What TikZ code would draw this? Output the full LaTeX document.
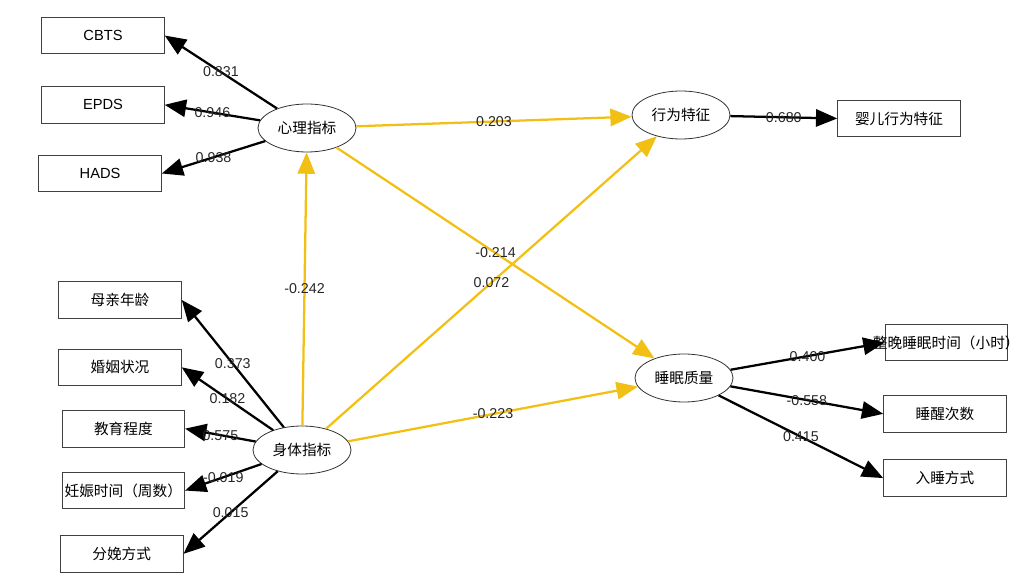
\documentclass[tikz,border=0pt]{standalone}
\usepackage{fontspec}
\setmainfont{Liberation Sans}
\newfontfamily\cjk{Noto Sans CJK SC}
\usepackage{tikz}
\usetikzlibrary{arrows.meta, positioning, shapes.geometric}
\definecolor{pathyellow}{RGB}{242,192,20}

\begin{document}
\begin{tikzpicture}[
    x=0.75pt, y=-0.75pt,
    node distance=50pt, on grid,
    base/.style={draw=black!75, line width=0.6pt, font=\cjk\fontsize{11pt}{13pt}\selectfont, align=center, inner sep=2pt},
    obs/.style={base, rectangle, minimum width=92pt, minimum height=27.5pt},
    latent/.style={base, ellipse, draw=black!80, minimum width=73.5pt, minimum height=36pt, fill=white},
    lbl/.style={font=\fontsize{10.7pt}{12pt}\selectfont, text=black!85, inner sep=0pt},
    loading/.style={-{Triangle[length=16pt, width=13pt]}, line width=1.7pt, draw=black},
    effect/.style={-{Triangle[length=16pt, width=13pt]}, line width=1.7pt, draw=pathyellow}
]
    \useasboundingbox (0,0) rectangle (1029,584);

    % --- Latent variables ---
    \node[latent] (psy) at (307,128) {心理指标};
    \node[latent] (phys) at (302,450) {身体指标};
    \node[latent] (behav) at (681,115) {行为特征};
    \node[latent] (sleep) at (684,378) {睡眠质量};

    % Psychological indicators
    \node[obs, font=\fontsize{11pt}{13pt}\selectfont] (cbts) at (103,35.5) {CBTS};
    \node[obs, font=\fontsize{11pt}{13pt}\selectfont, below=52pt of cbts] (epds) {EPDS};
    \node[obs, font=\fontsize{11pt}{13pt}\selectfont, below=51.5pt of epds, xshift=-2.2pt] (hads) {HADS};

    % Physical indicators
    \node[obs] (age) at (120,300) {母亲年龄};
    \node[obs, below=50.5pt of age] (marital) {婚姻状况};
    \node[obs, below=46pt of marital, xshift=2.5pt] (edu) {教育程度};
    \node[obs, below=46.4pt of edu] (gest) {妊娠时间（周数）};
    \node[obs, below=47.5pt of gest, xshift=-1.2pt] (delivery) {分娩方式};

    % Behaviour indicator
    \node[obs, right=163.5pt of behav, yshift=-2.6pt] (infant) {婴儿行为特征};

    % Sleep indicators
    \node[obs] (night) at (946.3,342.5) {\makebox[0pt]{整晚睡眠时间（小时）}};
    \node[obs, below=53.5pt of night, xshift=-1pt] (wake) {睡醒次数};
    \node[obs, below=48.2pt of wake] (onset) {入睡方式};

    % --- Loadings ---
    \draw[loading] (psy) -- node[lbl] {0.831} (cbts.east);
    \draw[loading] (psy) -- node[lbl] {0.946} (epds.east);
    \draw[loading] (psy) -- node[lbl] {0.938} (hads.east);

    \draw[loading] (phys) -- node[lbl] {0.373} (age.east);
    \draw[loading] (phys) -- node[lbl] {0.182} (marital.east);
    \draw[loading] (phys) -- node[lbl] {0.575} (edu.east);
    \draw[loading] (phys) -- node[lbl] {-0.019} (gest.east);
    \draw[loading] (phys) -- node[lbl] {0.015} (delivery.east);

    \draw[loading] (behav) -- node[lbl] {0.680} (infant.west);

    \draw[loading] (sleep) -- node[lbl] {0.400} (night.west);
    \draw[loading] (sleep) -- node[lbl] {-0.558} (wake.west);
    \draw[loading] (sleep) -- node[lbl] {0.415} (onset.west);

    % --- Structural paths ---
    \draw[effect] (phys) -- node[lbl] {-0.242} (psy);
    \draw[effect] (psy) -- node[lbl] {0.203} (behav);
    \draw[effect] (psy) -- node[lbl] {-0.214} (sleep);
    \draw[effect] (phys) -- node[lbl] {0.072} (behav);
    \draw[effect] (phys) -- node[lbl] {-0.223} (sleep);

\end{tikzpicture}
\end{document}
